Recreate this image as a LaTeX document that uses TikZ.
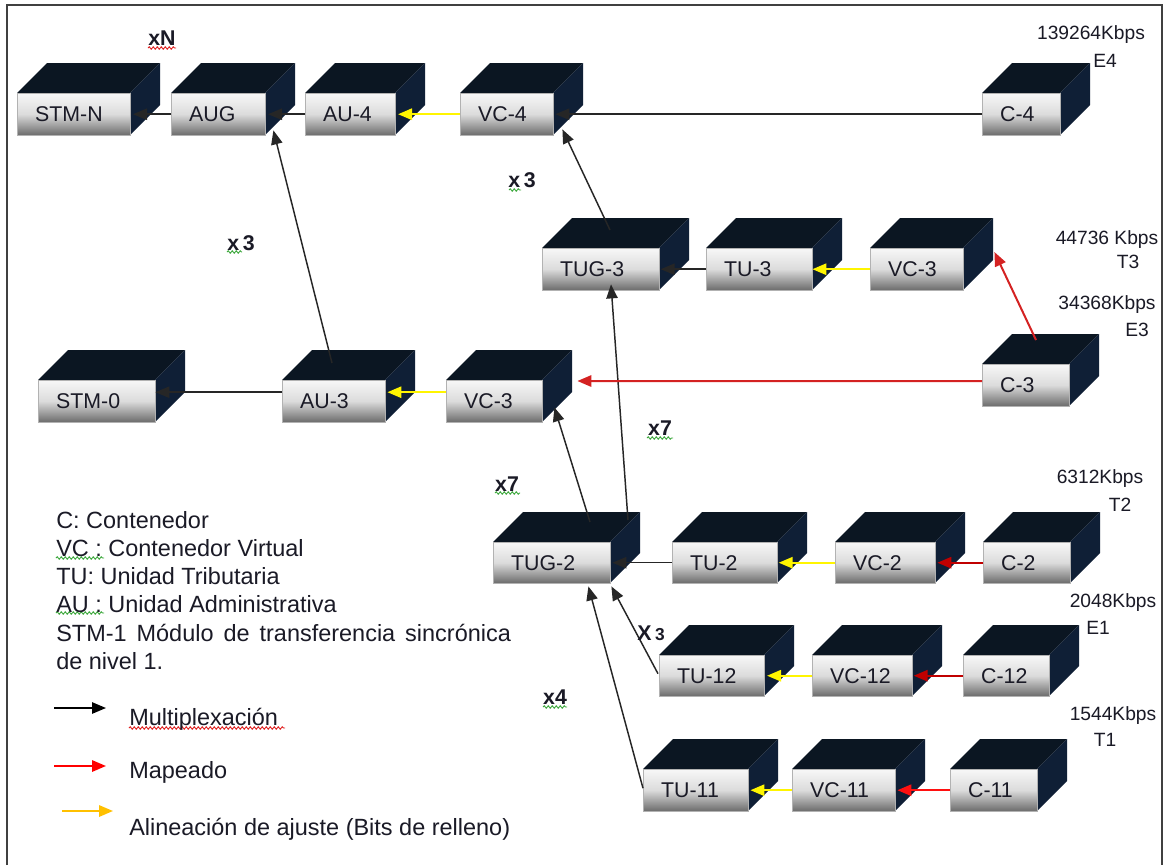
\documentclass[tikz,border=0pt]{standalone}
\usepackage{fontspec}
\setmainfont{Liberation Sans}
\usetikzlibrary{arrows.meta,calc,decorations.pathmorphing}

\definecolor{cubetopc}{HTML}{0B1622}
\definecolor{cubesidec}{HTML}{0F1F36}
\definecolor{labeltext}{HTML}{1A1A26}
\definecolor{mapred}{HTML}{D42222}
\definecolor{mapdark}{HTML}{C00000}
\definecolor{mapbright}{HTML}{FF1010}
\definecolor{stuffyel}{HTML}{FFF500}
\definecolor{legorange}{HTML}{FFC000}
\definecolor{squigred}{HTML}{E02020}
\definecolor{squiggreen}{HTML}{3CA83C}

\newcommand\cubelabelfont{\fontsize{16}{18}\selectfont}
\newcommand\legendfont{\fontsize{17.6}{21}\selectfont}
\newcommand\ratefont{\fontsize{14.4}{16}\selectfont}
\newcommand\multfont{\fontsize{16}{18}\selectfont\bfseries}

% a 3-D block: name, front face x1 y1 x2 y2 (pixel grid, y downwards), label
\newcommand\boxcube[6]{%
  \fill[cubetop] (#2,#3) -- ++(30,-30) -- ({#4+30},{#3-30}) -- (#4,#3) -- cycle;
  \fill[cubeside] (#4,#3) -- ++(30,-30) -- ({#4+30},{#5-30}) -- (#4,#5) -- cycle;
  \pgfmathsetmacro\bw{(#4-#2)*0.75}%
  \pgfmathsetmacro\bh{(#5-#3)*0.75}%
  \pgfmathsetmacro\tw{(#4-#2)*0.75-27}%
  \node[cubefront, minimum width=\bw pt, minimum height=\bh pt, text width=\tw pt,
        anchor=north west] (#1) at (#2,#3) {#6};%
}

\tikzset{
  cubetop/.style={fill=cubetopc},
  cubeside/.style={fill=cubesidec},
  cubefront/.style={draw=black!30, line width=0.3pt,
    top color=white!97!black, bottom color=black!58, middle color=white!86!black,
    inner xsep=13.5pt, inner ysep=0pt, align=left, font=\cubelabelfont, text=labeltext},
  tip/.style={-{Triangle[length=10.5pt,width=8.5pt]}},
  blk/.style={tip, draw=black!85, line width=1.1pt},
  yel/.style={tip, draw=stuffyel, line width=1.5pt},
  redc/.style={tip, draw=mapred, line width=1.5pt},
  redd/.style={tip, draw=mapdark, line width=1.5pt},
  redb/.style={tip, draw=mapbright, line width=1.5pt},
  legtext/.style={anchor=base west, inner sep=0pt, font=\legendfont, text=labeltext},
  rate/.style={inner sep=0pt, font=\ratefont, text=labeltext},
  mult/.style={inner sep=0pt, font=\multfont, text=labeltext},
  squig/.style={decorate, decoration={snake, amplitude=0.9pt, segment length=3pt}, line width=0.7pt},
}

\begin{document}
\begin{tikzpicture}[x=0.75pt, y=-0.75pt]
\useasboundingbox (0,0) rectangle (1164,865);
\fill[white] (0,0) rectangle (1164,865);

% page frame
\draw[line width=1.5pt, black!75] (7,865) -- (7,5) -- (1162,5) -- (1162,865);

% top row
\boxcube{stmn}{17}{93}{130}{135}{STM-N}
\boxcube{aug}{171}{93}{265}{135}{AUG}
\boxcube{au4}{305}{93}{395}{135}{AU-4}
\boxcube{vc4}{460}{93}{553}{135}{VC-4}
\boxcube{c4}{982}{93}{1060}{135}{C-4}

% TUG-3 row
\boxcube{tug3}{542}{248}{659}{290}{TUG-3}
\boxcube{tu3}{706}{248}{812}{290}{TU-3}
\boxcube{vc3a}{870}{248}{963}{290}{VC-3}

% AU-3 row
\boxcube{stm0}{38}{380}{155}{422}{STM-0}
\boxcube{au3}{282}{380}{385}{422}{AU-3}
\boxcube{vc3b}{446}{380}{542}{422}{VC-3}
\boxcube{c3}{982}{364}{1069}{406}{C-3}

% TUG-2 row
\boxcube{tug2}{493}{542}{610}{583}{TUG-2}
\boxcube{tu2}{672}{542}{777}{583}{TU-2}
\boxcube{vc2}{835}{542}{935}{583}{VC-2}
\boxcube{c2}{983}{542}{1070}{583}{C-2}

% TU-12 row
\boxcube{tu12}{659}{655}{764}{696}{TU-12}
\boxcube{vc12}{812}{655}{912}{696}{VC-12}
\boxcube{c12}{963}{655}{1049}{696}{C-12}

% TU-11 row
\boxcube{tu11}{643}{769}{748}{811}{TU-11}
\boxcube{vc11}{792}{769}{895}{811}{VC-11}
\boxcube{c11}{950}{769}{1037}{811}{C-11}

% multiplexing
\draw[blk] (aug.west) -- ([xshift=2pt]stmn.east);
\draw[blk] (au4.west) -- ([xshift=2pt]aug.east);
\draw[blk] (c4.west) -- ([xshift=1.5pt]vc4.east);
\draw[blk] ($(tug3.north west)+(68,-18)$) -- ($(vc4.south east)+(9,-6)$);
\draw[blk] ($(au3.north west)+(50,-17)$) -- ($(aug.south east)+(8,-5)$);
\draw[blk] ($(au3.west)+(0,-9)$) -- ($(stm0.east)+(0,-9)$);
\draw[blk] (tu3.west) -- ([xshift=1pt]tug3.east);
\draw[blk] ($(tug2.north west)+(97,-20)$) -- ($(vc3b.south east)+(12,-15)$);
\draw[blk] ($(tug2.north west)+(135,-22)$) -- ($(tug3.south west)+(69,-6)$);
\draw[blk] (tu2.west) -- ([xshift=1.5pt]tug2.east);
\draw[blk] ($(tu12.west)+(-1,-2)$) -- ($(tug2.south east)+(1,3)$);
\draw[blk] ($(tu11.west)+(0,-2)$) -- ($(tug2.south east)+(-22,3)$);

% justification (stuffing)
\draw[yel] (vc4.west) -- ([xshift=2pt]au4.east);
\draw[yel] ($(vc3b.west)+(0,-9)$) -- ($(au3.east)+(2,-9)$);
\draw[yel] (vc3a.west) -- (tu3.east);
\draw[yel] (vc2.west) -- ([xshift=1pt]tu2.east);
\draw[yel] (vc12.west) -- ([xshift=2pt]tu12.east);
\draw[yel] (vc11.west) -- ([xshift=1.5pt]tu11.east);

% mapping
\draw[redc] ($(c3.west)+(0,-4)$) -- ($(vc3b.north east)+(35,1)$);
\draw[redc] ($(c3.north west)+(54,-24)$) -- ($(vc3a.north east)+(31,4)$);
\draw[redd] (c2.west) -- ([xshift=1.5pt]vc2.east);
\draw[redd] (c12.west) -- ([xshift=1pt]vc12.east);
\draw[redb] (c11.west) -- ([xshift=1.5pt]vc11.east);

% multiplicity labels
\node[mult] (mN) at (162,38) {xN};
\node[mult] (m3a) at (522,180) {x\,3};
\node[mult] (m3b) at (241,243) {x\,3};
\node[mult] (m7a) at (660,428) {x7};
\node[mult] (m7b) at (507,484) {x7};
\node[mult] (m3c) at (651,633) {X\,{\fontsize{13}{14}\selectfont 3}};
\node[mult] (m4) at (555,697) {x4};

% proofing marks under some words
\draw[squig, squigred] (148,48) -- (176,48);
\draw[squig, squiggreen] (509,190) -- (521,190);
\draw[squig, squiggreen] (227,252) -- (242,252);
\draw[squig, squiggreen] (647,438) -- (673,438);
\draw[squig, squiggreen] (495,493) -- (520,493);
\draw[squig, squiggreen] (543,707) -- (567,707);
\draw[squig, squiggreen] (56,558) -- (104,558);
\draw[squig, squiggreen] (56,613) -- (104,613);
\draw[squig, squigred] (129,728) -- (285,728);

% line rates
\node[rate] (r1) at (1091,35) {139264Kbps};
\node[rate] (r1b) at (1105,61) {E4};
\node[rate] (r2) at (1107,240) {44736 Kbps};
\node[rate] (r2b) at (1128,262) {T3};
\node[rate] (r3) at (1107,305) {34368Kbps};
\node[rate] (r3b) at (1137,330) {E3};
\node[rate] (r4) at (1100,479) {6312Kbps};
\node[rate] (r4b) at (1120,505) {T2};
\node[rate] (r5) at (1113,603) {2048Kbps};
\node[rate] (r5b) at (1098,628) {E1};
\node[rate] (r6) at (1113,716) {1544Kbps};
\node[rate] (r6b) at (1105,740) {T1};

% glossary
\node[legtext] (g1) at (56,528) {C: Contenedor};
\node[legtext] (g2) at (56,556.3) {VC : Contenedor Virtual};
\node[legtext] (g3) at (56,584.6) {TU: Unidad Tributaria};
\node[legtext] (g4) at (56,612.9) {AU : Unidad Administrativa};
\node[legtext] (g5) at (56,641.2) {\makebox[341pt][s]{STM-1 Módulo de transferencia sincrónica}};
\node[legtext] (g6) at (56,669.5) {de nivel 1.};

% arrow key
\coordinate (k1a) at (54,708);  \coordinate (k1b) at (106,708);
\coordinate (k2a) at (54,766);  \coordinate (k2b) at (106,766);
\coordinate (k3a) at (62,811);  \coordinate (k3b) at (113,811);
\draw[tip, draw=black, line width=1.3pt] (k1a) -- (k1b);
\draw[tip, draw=red, line width=1.5pt] (k2a) -- (k2b);
\draw[tip, draw=legorange, line width=1.5pt] (k3a) -- (k3b);
\node[legtext] (k1t) at (129,725) {Multiplexación};
\node[legtext] (k2t) at (129,778) {Mapeado};
\node[legtext] (k3t) at (129,835) {Alineación de ajuste (Bits de relleno)};
\end{tikzpicture}
\end{document}
